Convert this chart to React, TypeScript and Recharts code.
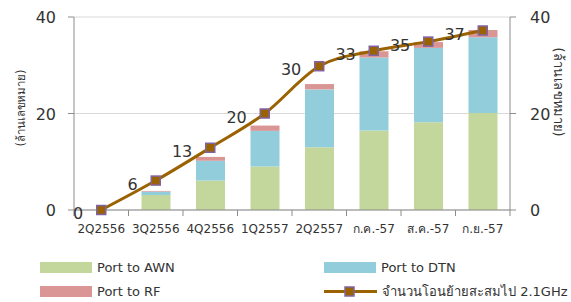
import React from "react";
import {
  Bar,
  CartesianGrid,
  ComposedChart,
  Label,
  LabelList,
  Legend,
  Line,
  XAxis,
  YAxis,
} from "recharts";

const categories = ["2Q2556", "3Q2556", "4Q2556", "1Q2557", "2Q2557", "ก.ค.-57", "ส.ค.-57", "ก.ย.-57"];
const portToAwn = [0, 3.1, 6.1, 9.0, 13.0, 16.5, 18.2, 20.1];
const portToDtn = [0, 0.7, 4.1, 7.4, 12.0, 15.1, 15.4, 15.7];
const portToRf = [0, 0.15, 0.8, 1.1, 1.1, 1.3, 1.2, 1.5];
const cumulative = [0, 6.1, 12.9, 20.0, 29.8, 33.0, 34.9, 37.2];
const cumulativeLabels = [0, 6, 13, 20, 30, 33, 35, 37];
const yTicks = [0, 20, 40];

const W = 571;
const H = 302;
const LEFT_W = 74;
const RIGHT_W = 61;
const BAND = (W - LEFT_W - RIGHT_W) / categories.length;

const FONT = "Tahoma, 'DejaVu Sans', 'Noto Sans', sans-serif";
const TEXT = "#333333";
const AXIS = "#8c8c8c";
const GREEN = "#c3d69b";
const BLUE = "#92cddc";
const PINK = "#d99694";
const BROWN = "#9a6200";
const PURPLE = "#8064a2";

const data = categories.map((name, i) => ({
  name,
  awn: portToAwn[i],
  dtn: portToDtn[i],
  rf: portToRf[i],
  total: cumulative[i],
  label: cumulativeLabels[i],
}));

function XTick(props: any) {
  const { x, y, payload, index } = props;
  const last = index === categories.length - 1;
  return (
    <g>
      <line x1={x - BAND / 2} y1={y} x2={x - BAND / 2} y2={y + 6} stroke={AXIS} />
      {last && <line x1={x + BAND / 2} y1={y} x2={x + BAND / 2} y2={y + 6} stroke={AXIS} />}
      <text x={x} y={y + 23} textAnchor="middle" fill={TEXT} fontSize={12} fontFamily={FONT}>
        {payload.value}
      </text>
    </g>
  );
}

function YTick(props: any) {
  const { x, y, payload, side } = props;
  return (
    <text
      x={x}
      y={y}
      dy={6}
      textAnchor={side === "left" ? "end" : "start"}
      fill={TEXT}
      fontSize={16}
      fontFamily={FONT}
    >
      {payload.value}
    </text>
  );
}

function SquareDot(props: any) {
  const { cx, cy } = props;
  if (cx == null || cy == null) return null;
  return <rect x={cx - 4.5} y={cy - 4.5} width={9} height={9} fill={BROWN} stroke={PURPLE} strokeWidth={1.5} />;
}

function PointLabel(props: any) {
  const { x, y, value } = props;
  return (
    <text x={x - 18} y={y + 9} textAnchor="end" fill={TEXT} fontSize={16} fontFamily={FONT}>
      {value}
    </text>
  );
}

function SideLabel({ viewBox, side }: any) {
  const left = side === "left";
  const cx = left ? viewBox.x + 21 : viewBox.x + viewBox.width - 12;
  const cy = left ? 108 : 92;
  return (
    <text
      x={cx}
      y={cy}
      transform={`rotate(${left ? -90 : 90}, ${cx}, ${cy})`}
      textAnchor="middle"
      dominantBaseline="central"
      fill={TEXT}
      fontSize={left ? 12 : 14}
      textLength={left ? 77 : 89}
      lengthAdjust="spacingAndGlyphs"
      fontFamily={FONT}
    >
      (ล้านเลขหมาย)
    </text>
  );
}

function LegendBox() {
  const item = (swatch: React.ReactNode, text: string) => (
    <div style={{ display: "flex", alignItems: "center", height: 23.5 }}>
      {swatch}
      <span style={{ marginLeft: 5 }}>{text}</span>
    </div>
  );
  const box = (color: string) => <div style={{ width: 52, height: 11, background: color }} />;
  const lineSwatch = (
    <svg width={53} height={11}>
      <line x1={0} y1={5.5} x2={53} y2={5.5} stroke={BROWN} strokeWidth={3} />
      <rect x={21} y={1} width={9} height={9} fill={BROWN} stroke={PURPLE} strokeWidth={1.5} />
    </svg>
  );
  return (
    <div
      style={{
        display: "grid",
        gridTemplateColumns: "284px 250px",
        paddingLeft: 40,
        paddingTop: 21,
        boxSizing: "border-box",
        fontFamily: FONT,
        fontSize: 13,
        color: TEXT,
        textAlign: "left",
        height: 67,
      }}
    >
      {item(box(GREEN), "Port to AWN")}
      {item(box(BLUE), "Port to DTN")}
      {item(box(PINK), "Port to RF")}
      {item(lineSwatch, "จำนวนโอนย้ายสะสมไป 2.1GHz")}
    </div>
  );
}

export default function App() {
  return (
    <div style={{ position: "absolute", left: 0, top: 0, width: W, height: H, background: "#fff" }}>
      <ComposedChart width={W} height={H} data={data} margin={{ top: 17, right: 0, bottom: 0, left: 0 }}>
        <CartesianGrid vertical={false} stroke="#d9d9d9" yAxisId="left" />
        <XAxis
          dataKey="name"
          interval={0}
          height={25}
          stroke={AXIS}
          tickLine={false}
          tickSize={0}
          tickMargin={0}
          tick={<XTick />}
        />
        <YAxis
          yAxisId="left"
          width={LEFT_W}
          domain={[0, 40]}
          ticks={yTicks}
          stroke={AXIS}
          tickSize={6}
          tickMargin={12}
          tick={<YTick side="left" />}
        >
          <Label content={<SideLabel side="left" />} />
        </YAxis>
        <YAxis
          yAxisId="right"
          orientation="right"
          width={RIGHT_W}
          domain={[0, 40]}
          ticks={yTicks}
          stroke={AXIS}
          tickSize={6}
          tickMargin={14}
          tick={<YTick side="right" />}
        >
          <Label content={<SideLabel side="right" />} />
        </YAxis>
        <Legend verticalAlign="bottom" content={<LegendBox />} wrapperStyle={{ height: 67 }} />
        <Bar yAxisId="left" dataKey="awn" stackId="a" fill={GREEN} barSize={29} isAnimationActive={false} />
        <Bar yAxisId="left" dataKey="dtn" stackId="a" fill={BLUE} barSize={29} isAnimationActive={false} />
        <Bar yAxisId="left" dataKey="rf" stackId="a" fill={PINK} barSize={29} isAnimationActive={false} />
        <Line
          yAxisId="right"
          type="monotone"
          dataKey="total"
          stroke={BROWN}
          strokeWidth={3}
          dot={<SquareDot />}
          activeDot={false}
          isAnimationActive={false}
        >
          <LabelList dataKey="label" content={<PointLabel />} />
        </Line>
      </ComposedChart>
    </div>
  );
}
